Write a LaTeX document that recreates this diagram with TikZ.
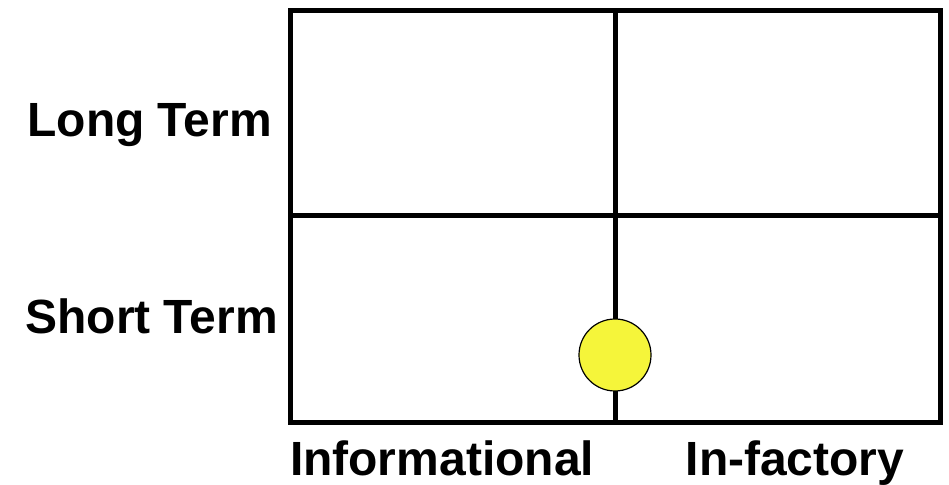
\documentclass[tikz,border=0pt]{standalone}
\usepackage{fontspec}
\setmainfont{Liberation Sans}
\usepackage{tikz}
\definecolor{marker}{RGB}{245,245,58}
\tikzset{
	axislabel/.style = {inner sep=0pt, font=\fontsize{48}{53}\selectfont\bfseries},
	rowlabel/.style = {axislabel, anchor=base east},
	collabel/.style = {axislabel, anchor=base},
	gridline/.style = {draw=black, line width=5pt},
	dot/.style = {circle, draw=black, line width=1.2pt, fill=marker, minimum size=72pt, inner sep=0pt}
}
\begin{document}
\begin{tikzpicture}[x=1pt, y=1pt]
		\useasboundingbox (0,0) rectangle (949,484);
		\coordinate (nw) at (290,473);
		\coordinate (se) at (940,61);
		\coordinate (ntop) at (615,473);
		\coordinate (nbot) at (615,61);
		\coordinate (wmid) at (290,268);
		\coordinate (emid) at (940,268);
		\draw [gridline] (nw) rectangle (se);
		\draw [gridline] (ntop) -- (nbot);
		\draw [gridline] (wmid) -- (emid);
		\node [dot] (point) at (615,129) {};
		\node [rowlabel] (long) at (272,347) {Long Term};
		\node [rowlabel] (short) at (278,150) {Short Term};
		\node [collabel] (info) at (442,9) {Informational};
		\node [collabel] (factory) at (795,9) {In-factory};
\end{tikzpicture}
\end{document}
